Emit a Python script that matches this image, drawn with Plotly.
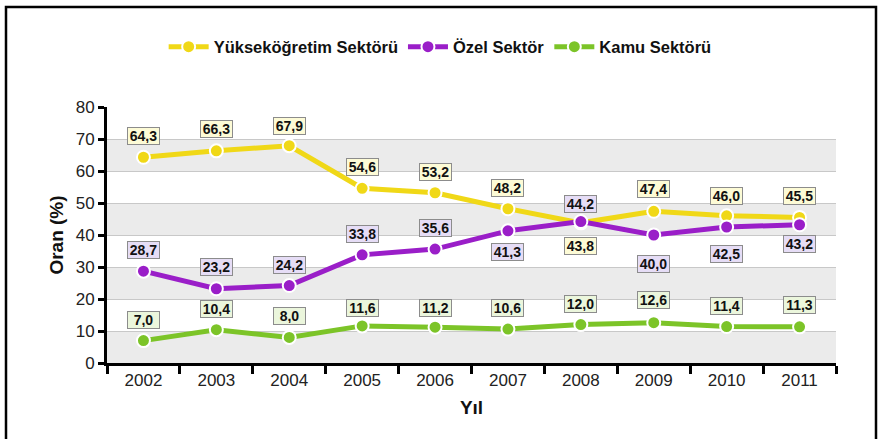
import plotly.graph_objects as go

years = ["2002", "2003", "2004", "2005", "2006", "2007", "2008", "2009", "2010", "2011"]
yuksek = [64.3, 66.3, 67.9, 54.6, 53.2, 48.2, 43.8, 47.4, 46.0, 45.5]
ozel = [28.7, 23.2, 24.2, 33.8, 35.6, 41.3, 44.2, 40.0, 42.5, 43.2]
kamu = [7.0, 10.4, 8.0, 11.6, 11.2, 10.6, 12.0, 12.6, 11.4, 11.3]
series_names = ["Yükseköğretim Sektörü", "Özel Sektör", "Kamu Sektörü"]

# label vertical shift in pixels (positive = above the point)
yuksek_shift = [21, 22, 20, 21, 21, 21, -23, 22, 20, 21]
ozel_shift = [21, 22, 21, 21, 21, -21, 18, -29, -27, -19]
kamu_shift = [21, 21, 21, 18, 19, 21, 21, 23, 21, 22]

line_colors = ["#f0d817", "#9a1ec8", "#7cc428"]
label_bgs = ["#fdfbd6", "#e6ddf6", "#ebf6dc"]

W, H = 880, 439
L, R, T, B = 107, 44, 107, 76

fig = go.Figure()
for name, vals, col in zip(series_names, [yuksek, ozel, kamu], line_colors):
    fig.add_trace(go.Scatter(
        x=years, y=vals, name=name, mode="lines+markers",
        line=dict(color=col, width=5),
        marker=dict(size=13, color=col, line=dict(color="white", width=2)),
        cliponaxis=False,
    ))

for vals, shifts, bg in zip([yuksek, ozel, kamu], [yuksek_shift, ozel_shift, kamu_shift], label_bgs):
    for i, (v, s) in enumerate(zip(vals, shifts)):
        # category axis: annotation x given as the category index
        fig.add_annotation(
            x=i, y=v, xref="x", yref="y",
            text="<b>" + f"{v:.1f}".replace(".", ",") + "</b>",
            showarrow=False, yshift=s,
            width=29, height=14,
            font=dict(family="Liberation Sans", size=14, color="#111111"),
            bgcolor=bg, bordercolor="#8c8c8c", borderwidth=1, borderpad=1,
        )

pw = W - L - R
ph = H - T - B
def px_to_paper_x(px):
    return (px - L) / pw
def px_to_paper_y(py):
    return (H - B - py) / ph

for y0 in [0, 20, 40, 60]:
    fig.add_shape(type="rect", xref="paper", yref="y", x0=0, x1=1, y0=y0, y1=y0 + 10,
                  fillcolor="#ebebeb", line=dict(width=0), layer="below")
fig.add_shape(type="rect", xref="paper", yref="paper",
              x0=px_to_paper_x(6), x1=px_to_paper_x(876),
              y0=px_to_paper_y(445), y1=px_to_paper_y(7),
              line=dict(color="black", width=2.5), fillcolor="rgba(0,0,0,0)")

fig.update_layout(
    width=W, height=H,
    margin=dict(l=L, r=R, t=T, b=B, autoexpand=False),
    paper_bgcolor="white", plot_bgcolor="white",
    font=dict(family="Liberation Sans", size=14, color="#222222"),
    showlegend=True,
    legend=dict(orientation="h", x=0.457, xanchor="center", y=px_to_paper_y(47), yanchor="middle",
                font=dict(size=16.5, color="#111111", weight="bold"), bgcolor="rgba(0,0,0,0)",
                itemwidth=40, traceorder="normal"),
    xaxis=dict(
        type="category", tickson="boundaries", ticks="outside", ticklen=8, tickwidth=3,
        tickcolor="black", showline=True, linecolor="black", linewidth=3,
        showgrid=False, range=[-0.5, 9.5],
        tickfont=dict(size=17, color="#222222"),
        title=dict(text="Yıl", font=dict(size=19, color="#111111", weight="bold"), standoff=12),
    ),
    yaxis=dict(
        range=[0, 80], dtick=10, ticks="outside", ticklen=6, tickwidth=3, tickcolor="black",
        showline=True, linecolor="black", linewidth=3,
        showgrid=True, gridcolor="#c8c8c8", gridwidth=1, zeroline=False,
        tickfont=dict(size=17, color="#222222"),
        title=dict(text="Oran (%)", font=dict(size=19, color="#111111", weight="bold"), standoff=8),
    ),
)

fig.write_html("out.html", config={"displayModeBar": False},
               post_script="document.body.style.margin='0';")
